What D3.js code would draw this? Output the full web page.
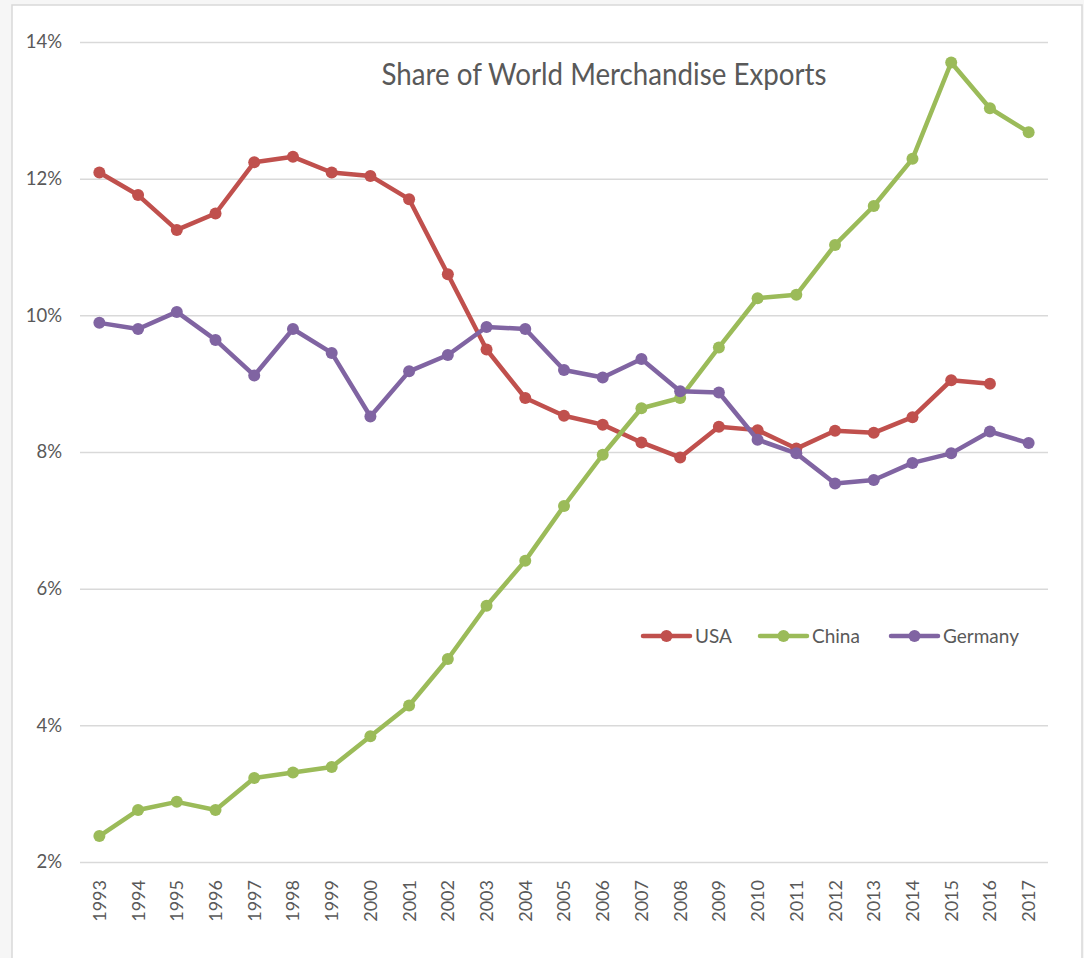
<!DOCTYPE html>
<html>
<head>
<meta charset="utf-8">
<script src="https://cdn.jsdelivr.net/npm/d3@7"></script>
<style>
  body { margin: 0; background: #f6f6f6; }
  svg { display: block; font-family: Lato, "Open Sans", sans-serif; }
</style>
</head>
<body>
<svg id="drawing_region"></svg>
<script>
// values (share of world merchandise exports, %)
const years = d3.range(1993, 2018).map(String);
const usa = [12.09, 11.76, 11.25, 11.49, 12.24, 12.32, 12.09, 12.04, 11.70, 10.60,
             9.50, 8.79, 8.53, 8.40, 8.14, 7.92, 8.37, 8.32, 8.05, 8.31,
             8.28, 8.51, 9.05, 9.00, null];
const china = [2.38, 2.76, 2.88, 2.76, 3.23, 3.31, 3.39, 3.84, 4.29, 4.97,
               5.75, 6.41, 7.21, 7.96, 8.64, 8.79, 9.53, 10.25, 10.30, 11.03,
               11.60, 12.29, 13.70, 13.03, 12.68];
const germany = [9.89, 9.80, 10.05, 9.64, 9.12, 9.80, 9.45, 8.52, 9.18, 9.42,
                 9.83, 9.80, 9.20, 9.09, 9.36, 8.89, 8.87, 8.18, 7.98, 7.54,
                 7.59, 7.84, 7.98, 8.30, 8.13];
const seriesNames = ["USA", "China", "Germany"];
const seriesColors = ["#c0504d", "#9bbb59", "#8064a2"];
const yTicks = [2, 4, 6, 8, 10, 12, 14];

const config = {
    width: 1084,
    height: 958,
    left: 80, right: 1048, top: 42, bottom: 862
};

const svg = d3.select('#drawing_region')
    .attr('width', config.width)
    .attr('height', config.height);

// chart frame
svg.append('rect')
    .attr('x', 12).attr('y', 5)
    .attr('width', 1070).attr('height', 970)
    .attr('fill', '#fff')
    .attr('stroke', '#d9d9d9')
    .attr('stroke-width', 1.5);

const xscale = d3.scaleBand()
    .domain(years)
    .range([config.left, config.right]);
const xc = d => xscale(d) + xscale.bandwidth() / 2;

const yscale = d3.scaleLinear()
    .domain([2, 14])
    .range([config.bottom, config.top]);

// y axis + gridlines
const yaxis = d3.axisLeft(yscale)
    .tickValues(yTicks)
    .tickSize(-(config.right - config.left))
    .tickPadding(18)
    .tickFormat(d => d + '%');

const yg = svg.append('g')
    .attr('transform', `translate(${config.left},0)`)
    .call(yaxis);
yg.select('.domain').remove();
yg.selectAll('line').attr('stroke', '#d9d9d9').attr('stroke-width', 1.5);
yg.selectAll('text')
    .attr('fill', '#595959')
    .style('font-size', '18.5px')
    .style('font-family', 'Lato, sans-serif');

// x axis
const xaxis = d3.axisBottom(xscale).tickSize(0).tickPadding(0);
const xg = svg.append('g')
    .attr('transform', `translate(0,${config.bottom})`)
    .call(xaxis);
xg.select('.domain').remove();
xg.selectAll('text')
    .attr('fill', '#595959')
    .style('font-size', '18px')
    .style('font-family', 'Lato, sans-serif')
    .attr('text-anchor', 'end')
    .attr('transform', 'rotate(-90)')
    .attr('x', -18)
    .attr('y', 0)
    .attr('dy', '0.36em');

// lines
const allSeries = [usa, china, germany];
const line = d3.line()
    .defined(d => d.v != null)
    .x(d => xc(d.year))
    .y(d => yscale(d.v));

allSeries.forEach((vals, i) => {
    const pts = years.map((y, j) => ({ year: y, v: vals[j] }));
    svg.append('path')
        .datum(pts)
        .attr('fill', 'none')
        .attr('stroke', seriesColors[i])
        .attr('stroke-width', 4.5)
        .attr('stroke-linejoin', 'round')
        .attr('d', line);
    svg.append('g').selectAll('circle')
        .data(pts.filter(d => d.v != null))
        .enter()
        .append('circle')
        .attr('cx', d => xc(d.year))
        .attr('cy', d => yscale(d.v))
        .attr('r', 6)
        .attr('fill', seriesColors[i]);
});

// title
svg.append('text')
    .attr('x', 604)
    .attr('y', 85)
    .attr('text-anchor', 'middle')
    .attr('fill', '#595959')
    .style('font-size', '31px')
    .attr('textLength', 445)
    .attr('lengthAdjust', 'spacingAndGlyphs')
    .text('Share of World Merchandise Exports');

// legend
const legendX = [643, 760, 891];
const legend = svg.append('g');
seriesNames.forEach((name, i) => {
    const g = legend.append('g').attr('transform', `translate(${legendX[i]},636)`);
    g.append('line')
        .attr('x1', 0).attr('x2', 47)
        .attr('stroke', seriesColors[i])
        .attr('stroke-width', 4.5)
        .attr('stroke-linecap', 'round');
    g.append('circle').attr('cx', 23.5).attr('r', 6).attr('fill', seriesColors[i]);
    g.append('text')
        .attr('x', 52)
        .attr('dy', '0.36em')
        .attr('fill', '#595959')
        .style('font-size', '19px')
        .text(name);
});
</script>
</body>
</html>
